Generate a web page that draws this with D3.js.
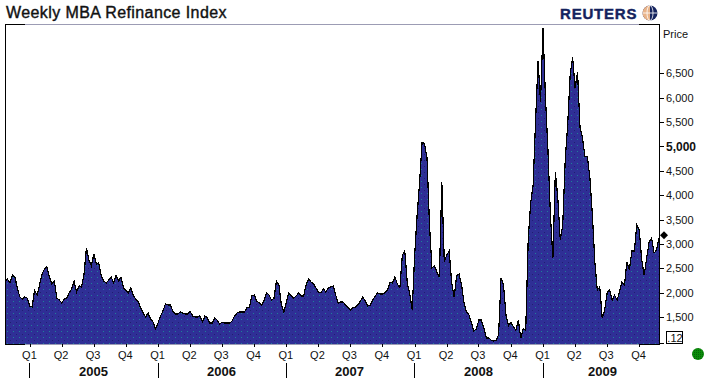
<!DOCTYPE html>
<html><head><meta charset="utf-8">
<style>html,body{margin:0;padding:0;background:#fff}svg{display:block}text{font-family:"Liberation Sans",Arial,sans-serif}</style>
<script src="https://cdn.jsdelivr.net/npm/d3@7"></script></head><body><div id="c"></div>
<script>
const titleText = "Weekly MBA Refinance Index";
const startDate = "2004-10-22", endDate = "2009-11-27";
const values = [
2240,2280,2200,2365,2325,2100,1915,1870,1915,1890,1730,1710,2055,1955,2160,2385,2490,2530,2325,2180,
2240,1890,1850,1790,1870,1890,2000,2080,2240,2015,2140,2120,2365,2920,2670,2550,2795,2590,2610,2345,
2240,2200,2260,2325,2200,2365,2240,2325,2100,2055,2000,2100,1935,1870,1810,1690,1585,1505,1585,1460,
1400,1260,1380,1525,1625,1770,1750,1750,1625,1565,1565,1605,1585,1565,1565,1625,1525,1505,1505,1525,
1400,1525,1485,1380,1380,1485,1440,1360,1400,1380,1380,1380,1420,1525,1585,1605,1605,1605,1690,1690,
1935,1955,1830,1790,1750,1850,2000,1955,1850,1890,2240,2160,1750,1605,1810,2000,1935,1890,1935,2000,
1935,1935,2160,2280,2220,2180,2100,2015,2000,2080,2015,2100,2120,2140,1955,1790,1810,1810,1750,1690,
1650,1690,1710,1750,1830,1915,1830,1730,1750,1850,1935,2000,1975,1975,2000,2055,2220,2200,2325,2180,
2100,2775,2855,2200,1975,1650,2775,3595,4270,5090,5050,4765,3390,2510,2550,2425,2325,4270,2630,2775,
2855,2200,1915,2345,2385,2160,1790,1605,1545,1380,1215,1260,1440,1440,1280,1075,1075,1030,1010,1030,
1135,2305,2160,1545,1320,1400,1300,1235,1440,1075,1260,1235,3080,3840,4210,5540,6750,5910,7430,5990,
4925,3595,2715,4475,3945,3080,3390,4720,5440,6465,6830,6200,6525,5380,5175,4785,4785,4355,3595,2630,
2055,2120,1480,1650,2000,2055,1850,1955,1850,2015,2220,2160,2630,2465,2855,2855,3390,3285,2670,2365,
2715,3040,3125,2815,2875,3125];
const yTicks = [1500,2000,2500,3000,3500,4000,4500,5000,5500,6000,6500];
const boldTick = 5000;
const lastPrice = 3180;
const years = [2005,2006,2007,2008,2009];
const quarters = ["Q1","Q2","Q3","Q4"];
const quarterMonths = [0,3,6,9];
const priceLabel = "Price", boxLabel = ".12", brand = "REUTERS";

const W=707,H=379, L=5,R=659,T=24,B=344;
const svg=d3.select("#c").append("svg").attr("width",W).attr("height",H);
const x=d3.scaleTime().domain([new Date(startDate+"T00:00:00"),new Date(endDate+"T00:00:00")]).range([L,R]);
const y=d3.scaleLinear().domain([950,7508]).range([B,T]);
const d0=x.domain()[0].getTime(), step=(x.domain()[1].getTime()-d0)/(values.length-1);
const series=values.map((v,i)=>({d:new Date(d0+i*step),v}));

const defs=svg.append("defs");
const p=defs.append("pattern").attr("id","dots").attr("width",6).attr("height",6).attr("patternUnits","userSpaceOnUse");
p.append("rect").attr("width",6).attr("height",6).attr("fill","#2f2f96");
p.append("rect").attr("x",1).attr("y",1).attr("width",1).attr("height",1).attr("fill","#1f7f9a");
p.append("rect").attr("x",4).attr("y",4).attr("width",1).attr("height",1).attr("fill","#1f1f70");
const g=defs.append("pattern").attr("id","gdots").attr("width",2).attr("height",2).attr("patternUnits","userSpaceOnUse");
g.append("rect").attr("width",2).attr("height",2).attr("fill","#0a8c0a");
g.append("rect").attr("width",1).attr("height",1).attr("fill","#066606");

svg.append("path").datum(series).attr("fill","url(#dots)").attr("shape-rendering","crispEdges")
  .attr("d",d3.area().x(d=>x(d.d)).y0(B).y1(d=>y(d.v)));
svg.append("path").datum(series).attr("fill","none").attr("stroke","#000").attr("stroke-width",1.2).attr("shape-rendering","crispEdges")
  .attr("d",d3.line().x(d=>x(d.d)).y(d=>y(d.v)));

// frame
const frame=svg.append("g").attr("shape-rendering","crispEdges").attr("fill","none");
const seg=(x1,y1,x2,y2,c)=>frame.append("line").attr("x1",x1).attr("y1",y1).attr("x2",x2).attr("y2",y2).attr("stroke",c);
seg(L,T+.5,L+20,T+.5,"#000"); seg(L+20,T+.5,639,T+.5,"#9c9cb4"); seg(639,T+.5,R+1,T+.5,"#000");
seg(L,B+.5,L+20,B+.5,"#000"); seg(L+20,B+.5,639,B+.5,"#9c9cb4"); seg(639,B+.5,R+1,B+.5,"#000");
seg(L+.5,T,L+.5,B+1,"#000"); seg(R+.5,T,R+.5,B+1,"#000");

// y axis
const ya=svg.append("g").attr("transform",`translate(${R+1},0)`)
  .call(d3.axisRight(y).tickValues(yTicks).tickSize(4).tickPadding(2).tickFormat(d3.format(",")));
ya.select(".domain").remove();
ya.selectAll(".tick line").attr("stroke","#000").attr("shape-rendering","crispEdges");
ya.selectAll(".tick text").attr("fill","#111").style("font-family","'Liberation Sans',Arial,sans-serif")
  .style("font-weight",d=>d===boldTick?"700":"400").style("font-size",d=>d===boldTick?"12px":"11px");
svg.append("line").attr("x1",R+1).attr("x2",R+5).attr("y1",343.5).attr("y2",343.5).attr("stroke","#000").attr("shape-rendering","crispEdges");
svg.append("text").attr("x",663).attr("y",38).attr("font-size",11).attr("fill","#111").text(priceLabel);

// x axis
const qDates=[]; years.forEach(yr=>quarterMonths.forEach((m,i)=>qDates.push({d:new Date(yr,m,1),q:quarters[i],yr})));
const xa=svg.append("g").attr("transform",`translate(0,${B})`)
  .call(d3.axisBottom(x).tickValues(qDates.map(d=>d.d)).tickSize(3).tickPadding(4).tickFormat((d,i)=>qDates[i].q));
xa.select(".domain").remove();
xa.selectAll(".tick line").attr("stroke","#000").attr("shape-rendering","crispEdges");
xa.selectAll(".tick text").attr("fill","#111").attr("dx",-1).style("font-size","11px").style("font-family","'Liberation Sans',Arial,sans-serif");
years.forEach((yr,i)=>{
  const a=x(new Date(yr,0,1)), b=i<years.length-1?x(new Date(yr+1,0,1)):R+3;
  svg.append("line").attr("x1",a).attr("x2",a).attr("y1",363).attr("y2",378).attr("stroke","#000").attr("shape-rendering","crispEdges");
  svg.append("text").attr("x",Math.round((a+b)/2)-0.5).attr("y",375.5).attr("text-anchor","middle")
    .attr("font-size",13).attr("font-weight",700).attr("fill","#111").text(yr);
});

// last price marker and box
svg.append("path").attr("d",d3.symbol(d3.symbolSquare,32)()).attr("fill","#000")
  .attr("transform",`translate(664,${y(lastPrice)}) rotate(45)`);
svg.append("rect").attr("x",666.5).attr("y",331.5).attr("width",16).attr("height",12).attr("fill","#fff").attr("stroke","#000").attr("shape-rendering","crispEdges");
svg.append("text").attr("x",675).attr("y",341.5).attr("text-anchor","middle").attr("font-size",11).attr("fill","#111").text(boxLabel);
svg.append("circle").attr("cx",698).attr("cy",354).attr("r",6).attr("fill","url(#gdots)");

// title and brand
svg.append("text").attr("x",6).attr("y",18).attr("font-size",16).attr("letter-spacing",.4).attr("fill","#111").attr("stroke","#111").attr("stroke-width",.4).text(titleText);
svg.append("text").attr("x",560).attr("y",19).attr("font-size",15).attr("font-weight",700).attr("letter-spacing",.8).attr("fill","#14235e").attr("stroke","#14235e").attr("stroke-width",.4).text(brand);
const lg=svg.append("g").attr("transform","translate(650,13)");
lg.append("circle").attr("r",7.5).attr("fill","#14235e");
lg.append("path").attr("d","M0,-7.5A7.5,7.5 0 0,0 0,7.5Z").attr("fill","#e9b48a");
lg.append("line").attr("x1",-7.5).attr("x2",7.5).attr("stroke","#fff").attr("stroke-width",.8);
lg.append("ellipse").attr("rx",3).attr("ry",7.5).attr("fill","none").attr("stroke","#fff").attr("stroke-width",.8);
</script></body></html>
